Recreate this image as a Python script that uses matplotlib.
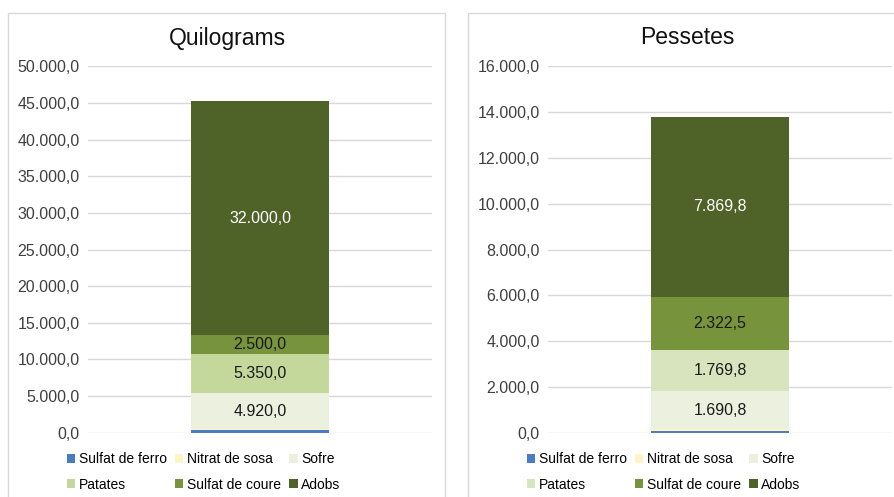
"""Two stacked single-bar charts: kilograms and pesetas per product."""

import matplotlib

matplotlib.use("Agg")
import matplotlib.pyplot as plt
from matplotlib.patches import Patch, Rectangle
from matplotlib.ticker import FuncFormatter, MultipleLocator

plt.rcParams["font.family"] = ["Liberation Sans", "DejaVu Sans"]

products = ["Sulfat de ferro", "Nitrat de sosa", "Sofre", "Patates", "Sulfat de coure", "Adobs"]
kilograms = [400.0, 100.0, 4920.0, 5350.0, 2500.0, 32000.0]
pesetas = [80.0, 60.0, 1690.8, 1769.8, 2322.5, 7869.8]

colors_kg = ["#4A7CC4", "#FFF5C4", "#EBF1DE", "#C4D89C", "#77933C", "#4F6228"]
colors_pts = ["#4A7CC4", "#FFF5C4", "#EBF1DE", "#D7E4BD", "#77933C", "#4F6228"]
label_colors = [None, None, "#1a1a1a", "#1a1a1a", "#1a1a1a", "#FFFFFF"]


def es_number(value, _pos=None):
    text = f"{value:,.1f}"
    return text.replace(",", "X").replace(".", ",").replace("X", ".")


fig = plt.figure(figsize=(8.94, 4.97), dpi=100)
fig.patches.append(Rectangle((8 / 894, -0.05), 437 / 894, 1 - 13 / 497 + 0.05,
                             transform=fig.transFigure, fill=False,
                             edgecolor="#D9D9D9", linewidth=1.0))
fig.patches.append(Rectangle((468 / 894, -0.05), 0.6, 1 - 13 / 497 + 0.05,
                             transform=fig.transFigure, fill=False,
                             edgecolor="#D9D9D9", linewidth=1.0))


def draw_panel(rect, values, colors, title, ymax, step, title_x, legend_x):
    ax = fig.add_axes(rect)
    bottom = 0.0
    for name, val, col, lc in zip(products, values, colors, label_colors):
        ax.bar(0, val, bottom=bottom, width=0.4, color=col, label=name, zorder=3)
        if lc is not None:
            ax.text(0, bottom + val / 2, es_number(val), ha="center", va="center",
                    color=lc, fontsize=11.5, zorder=4)
        bottom += val
    ax.set_xlim(-0.5, 0.5)
    ax.set_ylim(0, ymax)
    ax.yaxis.set_major_locator(MultipleLocator(step))
    ax.yaxis.set_major_formatter(FuncFormatter(es_number))
    ax.tick_params(axis="y", length=0, labelsize=11.5, labelcolor="#404040", pad=6)
    ax.set_xticks([])
    for spine in ax.spines.values():
        spine.set_visible(False)
    ax.grid(axis="y", color="#D9D9D9", linewidth=1.0, zorder=0)
    ax.set_axisbelow(True)
    fig.text(title_x, 1 - 38 / 497, title, ha="center", va="center", fontsize=16.5,
             color="#111111")
    handles = [Patch(facecolor=c, edgecolor="none") for c in colors]
    order = [0, 3, 1, 4, 2, 5]
    fig.legend([handles[i] for i in order], [products[i] for i in order],
               loc="center left", bbox_to_anchor=(legend_x, 1 - 472 / 497), ncol=3,
               frameon=False, fontsize=10, handlelength=0.6, handleheight=0.6,
               handletextpad=0.25, columnspacing=0.6, labelspacing=0.8,
               borderaxespad=0, borderpad=0)
    return ax


draw_panel([88 / 894, 1 - 432.7 / 497, 344 / 894, 366.4 / 497], kilograms, colors_kg,
           "Quilograms", 50000, 5000, 227 / 894, 67 / 894)
draw_panel([548 / 894, 1 - 432.7 / 497, 344 / 894, 366.4 / 497], pesetas, colors_pts,
           "Pessetes", 16000, 2000, 687 / 894, 527 / 894)

fig.savefig("out.png", dpi=100, facecolor="white")
